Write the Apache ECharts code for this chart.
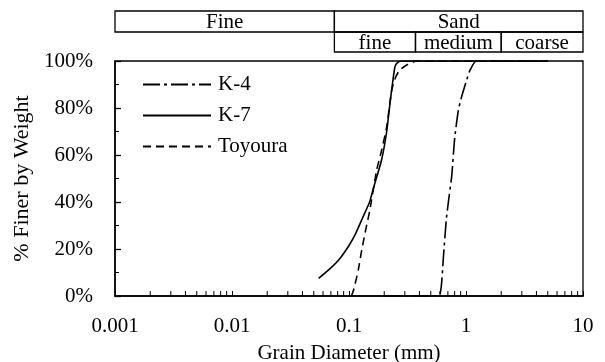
<!DOCTYPE html>
<html>
<head>
<meta charset="utf-8">
<script src="https://cdn.jsdelivr.net/npm/echarts@6/dist/echarts.min.js"></script>
<style>
html, body { margin: 0; padding: 0; background: #fff; }
#chart { width: 605px; height: 362px; }
</style>
</head>
<body>
<div id="chart"></div>
<script>
// grain size curves (diameter mm, % finer)
const k4Diam = [0.2, 0.4, 0.55, 0.6, 0.62, 0.64, 0.68, 0.72, 0.755, 0.8, 0.86, 0.92, 1.0, 1.08, 1.23, 5.0];
const k4Pct  = [0, 0, 0, 1, 6, 16, 33, 43, 51, 67, 79, 85, 91, 96, 100, 100];
const k7Diam = [0.055, 0.07, 0.0837, 0.1, 0.115, 0.13, 0.15, 0.1615, 0.19, 0.21, 0.224, 0.247, 0.26, 0.28, 0.32, 5.0];
const k7Pct  = [7.5, 12, 16, 21.5, 27, 33, 40, 45.8, 58, 70, 82, 97.6, 99.3, 100, 100, 100];
const toyDiam = [0.105, 0.11, 0.12, 0.1285, 0.14, 0.15, 0.1725, 0.19, 0.21, 0.232, 0.25, 0.27, 0.311, 0.38, 5.0];
const toyPct  = [0, 3, 11, 19.6, 29, 36, 53.6, 62, 72, 87.7, 93, 96, 98.3, 100, 100];

// classification header
const topBounds = [0.001, 0.075, 10];
const topLabels = ["Fine", "Sand"];
const sandBounds = [0.075, 0.37, 2, 10];
const sandLabels = ["fine", "medium", "coarse"];

const xTickLabels = ["0.001", "0.01", "0.1", "1", "10"];
const decades = [0.001, 0.01, 0.1, 1];
const minorSteps = [2, 3, 4, 5, 6, 7, 8, 9];

const FONT = "'Liberation Serif', 'Times New Roman', serif";
const zip = (a, b) => a.map((v, i) => [v, b[i]]);
const minorTicks = [];
decades.forEach(d => minorSteps.forEach(s => minorTicks.push([+(d * s).toPrecision(3), 0])));

const chart = echarts.init(document.getElementById("chart"));

const lineSeries = (name, data, type) => ({
	name: name,
	type: "line",
	data: data,
	symbol: "none",
	showSymbol: false,
	smooth: 0.2,
	lineStyle: { color: "#000", width: 1.6, type: type },
	itemStyle: { color: "#000" },
	z: 3
});

const option = {
	animation: false,
	backgroundColor: "#fff",
	textStyle: { fontFamily: FONT },
	grid: {
		left: 115, right: 22, top: 61, bottom: 66,
		containLabel: false,
		outerBoundsMode: "none",
		show: true, borderColor: "#000", borderWidth: 1.3
	},
	legend: {
		orient: "vertical",
		left: 142, top: 74,
		padding: 0,
		itemWidth: 68, itemHeight: 12, itemGap: 10,
		data: ["K-4", "K-7", "Toyoura"],
		itemStyle: { opacity: 0 },
		textStyle: { fontFamily: FONT, fontSize: 21, color: "#000", padding: [0, 0, 0, 2] }
	},
	xAxis: {
		type: "log",
		logBase: 10,
		min: 0.001,
		max: 10,
		name: "Grain Diameter (mm)",
		nameLocation: "middle",
		nameGap: 47,
		nameTextStyle: { fontFamily: FONT, fontSize: 21, color: "#000" },
		axisLine: { lineStyle: { color: "#000", width: 1.5 } },
		axisTick: { inside: true, length: 5, lineStyle: { color: "#000", width: 1 } },
		axisLabel: {
			fontFamily: FONT, fontSize: 21, color: "#000", margin: 20,
			formatter: v => xTickLabels[Math.round(Math.log10(v)) + 3]
		},
		splitLine: { show: false }
	},
	yAxis: {
		type: "value",
		min: 0,
		max: 100,
		interval: 20,
		name: "% Finer by Weight",
		nameLocation: "middle",
		nameGap: 80,
		nameTextStyle: { fontFamily: FONT, fontSize: 22, color: "#000", padding: [0, 0, 0, 0] },
		axisLine: { show: true, lineStyle: { color: "#000", width: 1.5 } },
		axisTick: { show: true, inside: true, length: 6, lineStyle: { color: "#000", width: 1.3 } },
		minorTick: { show: true, splitNumber: 2, length: 4, lineStyle: { color: "#000", width: 1 } },
		axisLabel: { fontFamily: FONT, fontSize: 21, color: "#000", margin: 22, formatter: "{value}%" },
		splitLine: { show: false }
	},
	series: [
		lineSeries("K-4", zip(k4Diam, k4Pct), [17, 4, 3, 4]),
		lineSeries("K-7", zip(k7Diam, k7Pct), "solid"),
		lineSeries("Toyoura", zip(toyDiam, toyPct), [8, 5]),
		{
			name: "minor",
			type: "custom",
			data: minorTicks,
			silent: true,
			z: 2,
			renderItem: (params, api) => {
				const p = api.coord([api.value(0), 0]);
				return {
					type: "line",
					shape: { x1: p[0], y1: p[1], x2: p[0], y2: p[1] - 5 },
					style: { stroke: "#000", lineWidth: 1 }
				};
			}
		}
	]
};

chart.setOption(option);

// header boxes placed on the x scale
const px = v => chart.convertToPixel({ xAxisIndex: 0 }, v);
const graphics = [];
function addRow(bounds, labels, y0, y1) {
	for (let i = 0; i < labels.length; i++) {
		const a = px(bounds[i]), b = px(bounds[i + 1]);
		graphics.push({
			type: "rect",
			shape: { x: a, y: y0, width: b - a, height: y1 - y0 },
			style: { fill: "none", stroke: "#000", lineWidth: 1.3 }
		});
		graphics.push({
			type: "text",
			x: (a + b) / 2, y: (y0 + y1) / 2 + 1,
			style: {
				text: labels[i], fill: "#000", font: "21px " + FONT,
				align: "center", verticalAlign: "middle"
			}
		});
	}
}
addRow(topBounds, topLabels, 11, 32);
addRow(sandBounds, sandLabels, 32, 52);
chart.setOption({ graphic: graphics });
</script>
</body>
</html>
